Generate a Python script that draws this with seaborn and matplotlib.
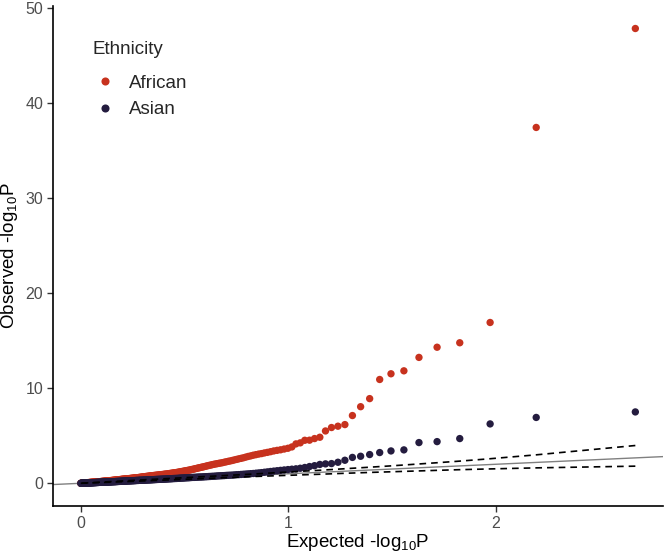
import numpy as np
import pandas as pd
import matplotlib
matplotlib.use("Agg")
import matplotlib.pyplot as plt
import seaborn as sns

# observed -log10(P), sorted from the smallest p-value downwards (234 tests each)
african_obs = [
    47.80, 37.40, 16.90, 14.77, 14.30, 13.23, 11.82, 11.51, 10.91, 8.90,
    8.05, 7.12, 6.17, 6.00, 5.86, 5.50, 4.84, 4.70, 4.53, 4.52,
    4.25, 4.14, 3.82, 3.68, 3.60, 3.52, 3.46, 3.40, 3.32, 3.25,
    3.19, 3.12, 3.07, 3.01, 2.95, 2.88, 2.82, 2.75, 2.68, 2.62,
    2.57, 2.51, 2.46, 2.40, 2.35, 2.31, 2.26, 2.22, 2.17, 2.13,
    2.10, 2.06, 2.03, 1.99, 1.95, 1.91, 1.87, 1.83, 1.79, 1.75,
    1.71, 1.68, 1.64, 1.61, 1.57, 1.54, 1.50, 1.47, 1.44, 1.40,
    1.38, 1.35, 1.33, 1.30, 1.28, 1.25, 1.23, 1.21, 1.18, 1.16,
    1.14, 1.12, 1.11, 1.09, 1.07, 1.05, 1.04, 1.02, 1.00, 0.98,
    0.97, 0.96, 0.95, 0.93, 0.92, 0.91, 0.90, 0.89, 0.87, 0.86,
    0.85, 0.84, 0.83, 0.82, 0.81, 0.80, 0.79, 0.78, 0.76, 0.75,
    0.74, 0.73, 0.72, 0.71, 0.70, 0.69, 0.68, 0.67, 0.65, 0.64,
    0.63, 0.62, 0.61, 0.60, 0.59, 0.59, 0.58, 0.57, 0.56, 0.55,
    0.54, 0.53, 0.52, 0.52, 0.51, 0.50, 0.49, 0.49, 0.48, 0.47,
    0.46, 0.46, 0.45, 0.44, 0.44, 0.43, 0.42, 0.42, 0.41, 0.40,
    0.39, 0.39, 0.38, 0.37, 0.37, 0.36, 0.35, 0.35, 0.34, 0.33,
    0.32, 0.32, 0.31, 0.31, 0.30, 0.29, 0.29, 0.28, 0.28, 0.27,
    0.26, 0.26, 0.25, 0.25, 0.24, 0.24, 0.23, 0.23, 0.22, 0.22,
    0.21, 0.21, 0.20, 0.20, 0.19, 0.19, 0.18, 0.18, 0.17, 0.17,
    0.17, 0.16, 0.16, 0.15, 0.15, 0.15, 0.14, 0.14, 0.13, 0.13,
    0.13, 0.12, 0.12, 0.11, 0.11, 0.11, 0.10, 0.10, 0.09, 0.09,
    0.09, 0.08, 0.08, 0.07, 0.07, 0.07, 0.06, 0.06, 0.05, 0.05,
    0.05, 0.04, 0.04, 0.04, 0.03, 0.03, 0.03, 0.02, 0.02, 0.02,
    0.01, 0.01, 0.01, 0.00,
]
asian_obs = [
    7.50, 6.92, 6.24, 4.70, 4.38, 4.28, 3.51, 3.40, 3.23, 3.02,
    2.84, 2.72, 2.42, 2.21, 2.07, 2.04, 1.98, 1.85, 1.76, 1.66,
    1.58, 1.52, 1.48, 1.44, 1.40, 1.36, 1.32, 1.28, 1.24, 1.20,
    1.16, 1.12, 1.09, 1.06, 1.03, 1.01, 0.99, 0.97, 0.95, 0.93,
    0.91, 0.90, 0.88, 0.86, 0.85, 0.84, 0.83, 0.81, 0.80, 0.79,
    0.78, 0.77, 0.75, 0.74, 0.73, 0.72, 0.71, 0.70, 0.69, 0.68,
    0.67, 0.66, 0.66, 0.65, 0.64, 0.63, 0.62, 0.62, 0.61, 0.60,
    0.59, 0.58, 0.58, 0.57, 0.56, 0.55, 0.55, 0.54, 0.53, 0.52,
    0.51, 0.51, 0.50, 0.50, 0.49, 0.48, 0.48, 0.47, 0.47, 0.46,
    0.45, 0.45, 0.44, 0.44, 0.43, 0.43, 0.42, 0.42, 0.41, 0.41,
    0.40, 0.40, 0.39, 0.39, 0.38, 0.38, 0.37, 0.37, 0.36, 0.36,
    0.36, 0.35, 0.35, 0.34, 0.34, 0.34, 0.33, 0.33, 0.32, 0.32,
    0.32, 0.31, 0.31, 0.30, 0.30, 0.30, 0.29, 0.29, 0.28, 0.28,
    0.28, 0.27, 0.27, 0.27, 0.26, 0.26, 0.26, 0.25, 0.25, 0.25,
    0.24, 0.24, 0.23, 0.23, 0.23, 0.22, 0.22, 0.22, 0.21, 0.21,
    0.21, 0.20, 0.20, 0.20, 0.19, 0.19, 0.19, 0.18, 0.18, 0.18,
    0.17, 0.17, 0.17, 0.17, 0.16, 0.16, 0.16, 0.15, 0.15, 0.15,
    0.15, 0.14, 0.14, 0.14, 0.14, 0.13, 0.13, 0.13, 0.13, 0.12,
    0.12, 0.12, 0.12, 0.11, 0.11, 0.11, 0.11, 0.10, 0.10, 0.10,
    0.10, 0.09, 0.09, 0.09, 0.09, 0.08, 0.08, 0.08, 0.08, 0.07,
    0.07, 0.07, 0.07, 0.06, 0.06, 0.06, 0.06, 0.05, 0.05, 0.05,
    0.05, 0.04, 0.04, 0.04, 0.04, 0.04, 0.03, 0.03, 0.03, 0.03,
    0.03, 0.02, 0.02, 0.02, 0.02, 0.02, 0.01, 0.01, 0.01, 0.01,
    0.01, 0.01, 0.00, 0.00,
]

# 95% band of the order statistics at some ranks
band_rank = [1, 2, 3, 4, 5, 6, 8, 10, 13, 17, 23, 35, 60, 120, 234]
band_upper = [3.97, 2.99, 2.58, 2.33, 2.16, 2.03, 1.83, 1.69, 1.53, 1.37, 1.21, 0.97, 0.70, 0.35, 0.007]
band_lower = [1.80, 1.62, 1.51, 1.43, 1.36, 1.30, 1.21, 1.14, 1.05, 0.95, 0.85, 0.71, 0.50, 0.24, 0.0001]

groups = ["African", "Asian"]
colors = {"African": "#C7321E", "Asian": "#241C3F"}

n = len(african_obs)
expected = -np.log10((np.arange(1, n + 1) - 0.5) / n)

df = pd.concat([
    pd.DataFrame({"expected": expected, "observed": african_obs, "Ethnicity": "African"}),
    pd.DataFrame({"expected": expected, "observed": asian_obs, "Ethnicity": "Asian"}),
], ignore_index=True)

sns.set_theme(style="ticks")
plt.rcParams['font.family'] = ['Liberation Sans', 'DejaVu Sans']
plt.rcParams['mathtext.fontset'] = 'custom'
plt.rcParams['mathtext.rm'] = 'Liberation Sans'
plt.rcParams['mathtext.it'] = 'Liberation Sans:italic'

fig = plt.figure(figsize=(6.66, 5.54), dpi=100)
ax = fig.add_axes([0.0796, 0.0866, 0.916, 0.903])

ax.axline((0, 0), slope=1, color="#808080", lw=1.0, zorder=1)

sns.scatterplot(data=df, x="expected", y="observed", hue="Ethnicity", hue_order=groups,
                palette=colors, s=28, linewidth=0, ax=ax, zorder=2)

bx = expected[np.array(band_rank) - 1]
ax.plot(bx, band_upper, color="black", lw=1.2, ls=(0, (4, 3)), zorder=3)
ax.plot(bx, band_lower, color="black", lw=1.2, ls=(0, (4, 3)), zorder=3)

# ggplot-like 5% expansion
xr = expected.max() - expected.min()
yr = df.observed.max() - df.observed.min()
ax.set_xlim(expected.min() - 0.05 * xr, expected.max() + 0.05 * xr)
ax.set_ylim(df.observed.min() - 0.05 * yr, df.observed.max() + 0.05 * yr)
ax.set_xticks([0, 1, 2])
ax.set_yticks([0, 10, 20, 30, 40, 50])

ax.set_xlabel("Expected -log$_{10}$P", fontsize=13.5, color="black", labelpad=1)
ax.set_ylabel("Observed -log$_{10}$P", fontsize=13.5, color="black", labelpad=4)
ax.tick_params(axis="both", labelsize=11.5, labelcolor="#4D4D4D", color="#333333",
               length=4, width=1.0, pad=3)
for s in ["top", "right"]:
    ax.spines[s].set_visible(False)
for s in ["left", "bottom"]:
    ax.spines[s].set_linewidth(1.2)
    ax.spines[s].set_color("black")

handles, labels = ax.get_legend_handles_labels()
leg = ax.legend(handles, labels, title="Ethnicity", loc="upper left",
                bbox_to_anchor=(0.05, 0.948), frameon=False, fontsize=13.5,
                title_fontsize=13.5, alignment="left", borderpad=0,
                handlelength=1.3, handletextpad=0.65, labelspacing=0.5,
                markerscale=1.1)
leg._legend_box.sep = 12

fig.savefig("out.png", dpi=100)
